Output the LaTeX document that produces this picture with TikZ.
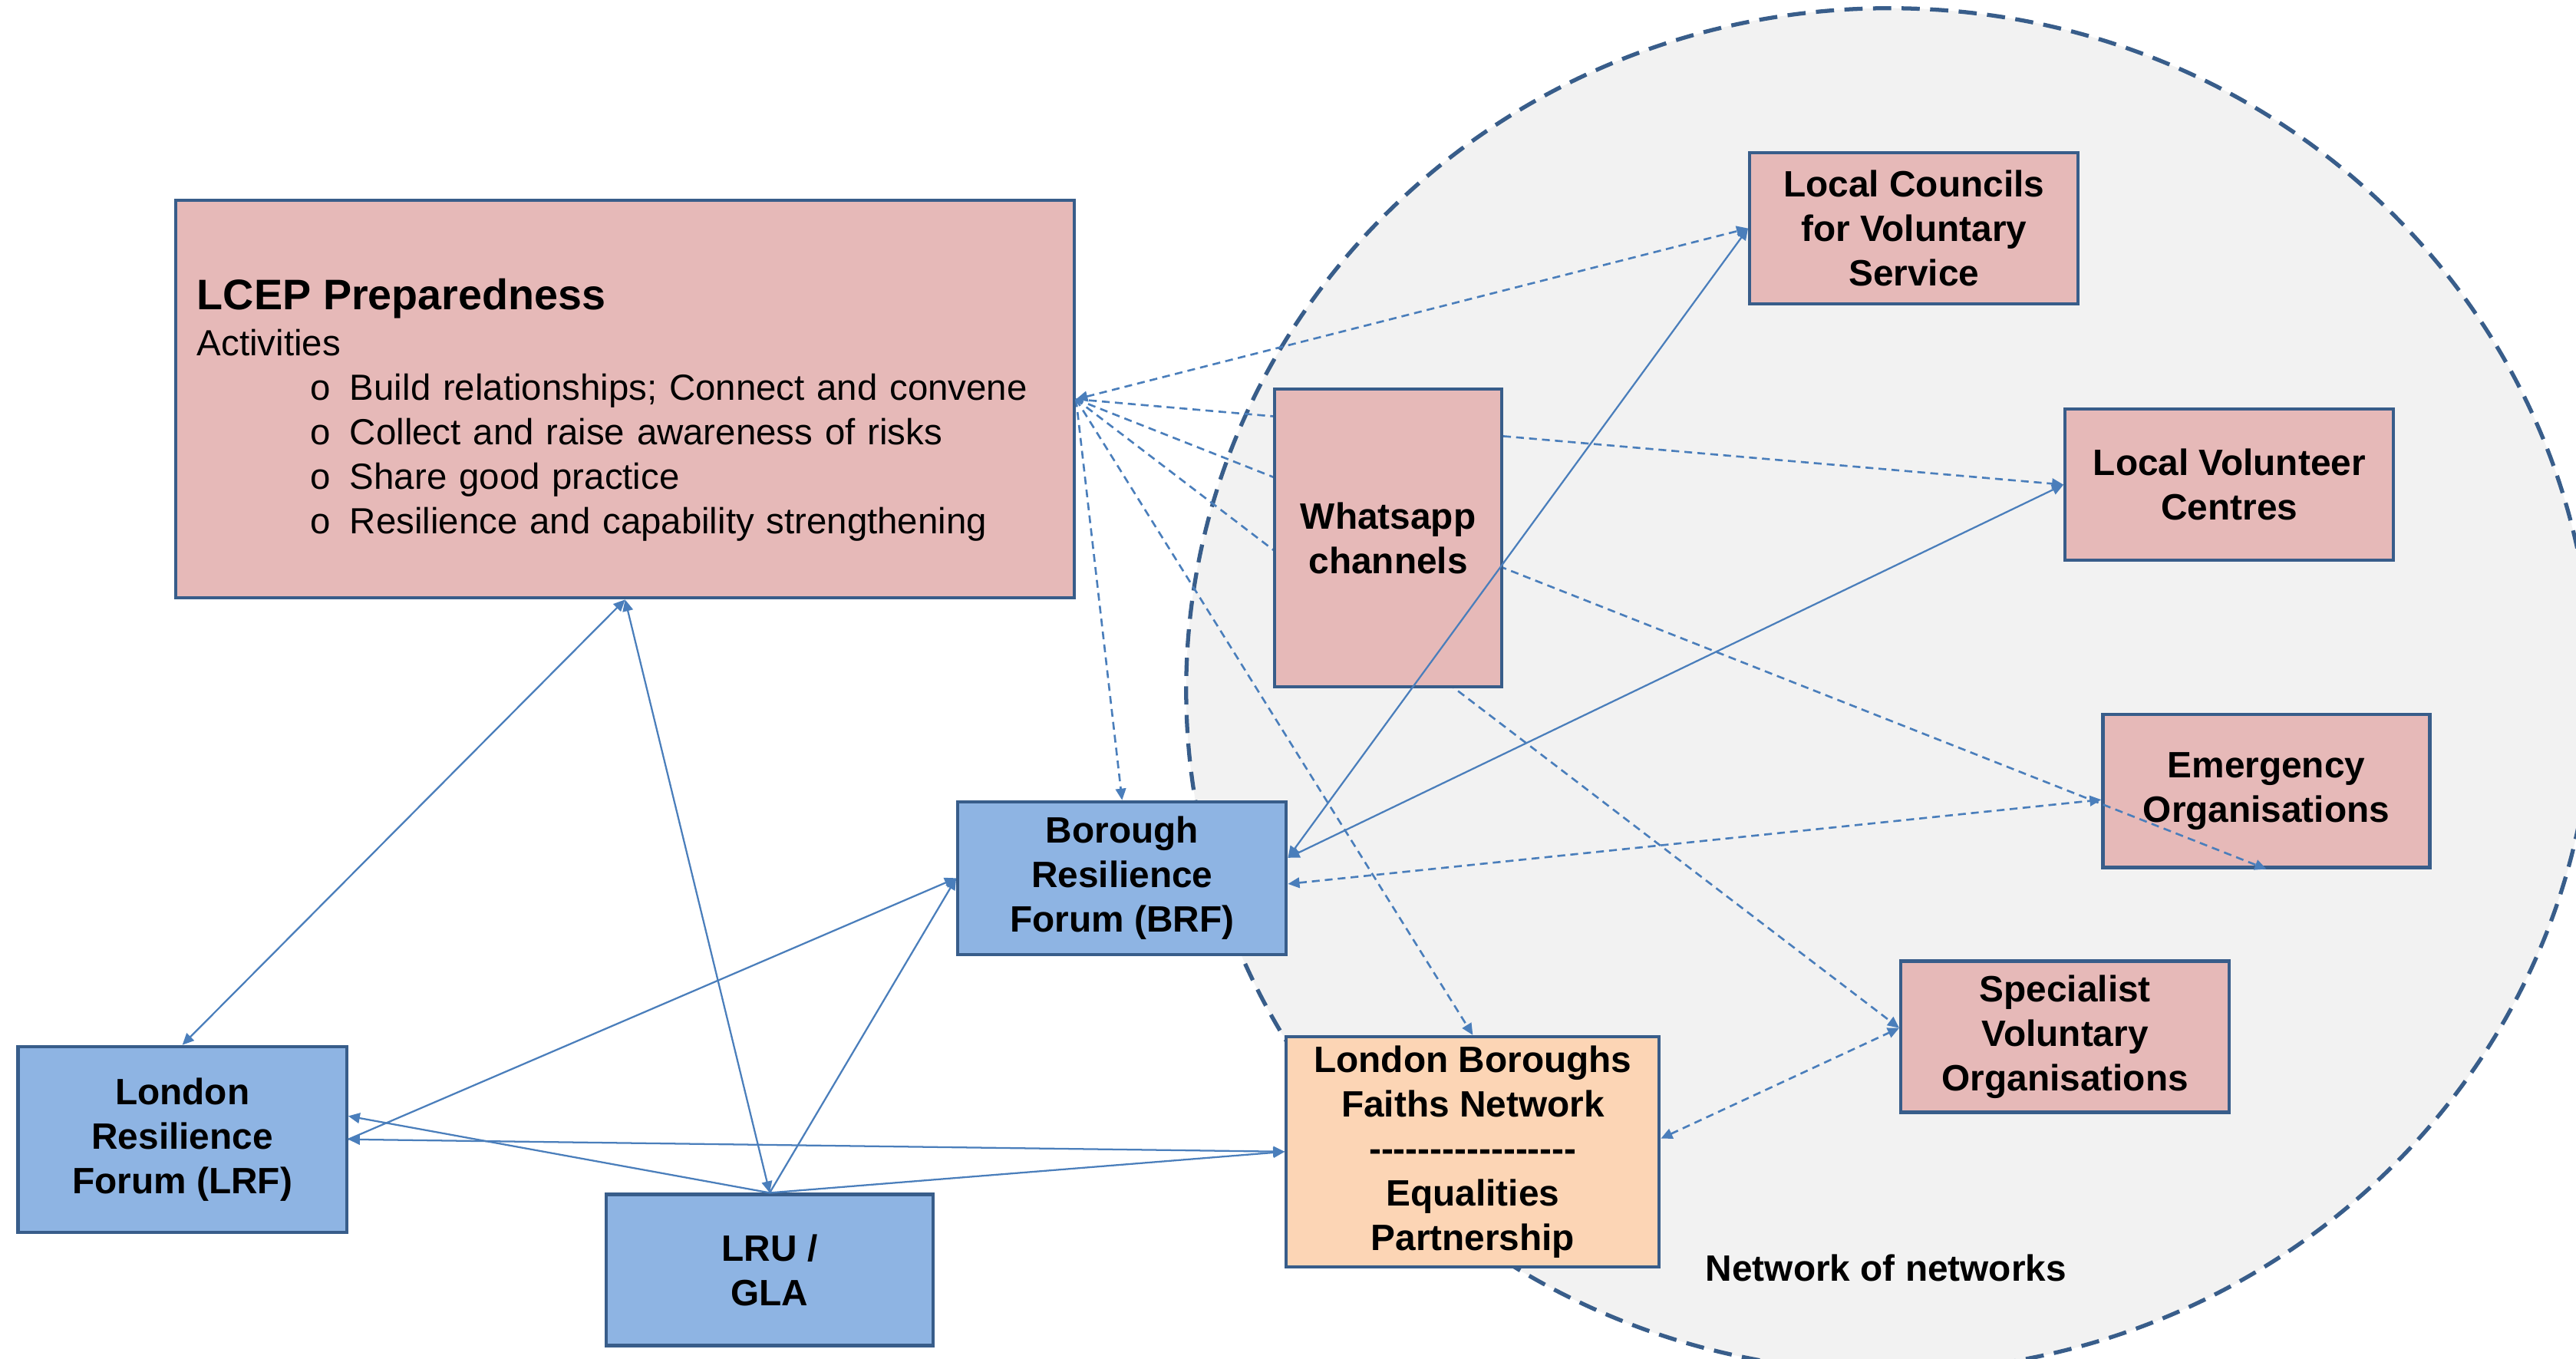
\documentclass[tikz,border=0pt]{standalone}
\usepackage{fontspec}
\setmainfont{Liberation Sans}
\usetikzlibrary{arrows.meta}

\definecolor{edgeblue}{RGB}{56,93,138}
\definecolor{linkblue}{RGB}{74,126,187}
\definecolor{pinkfill}{RGB}{230,185,184}
\definecolor{bluefill}{RGB}{142,180,227}
\definecolor{peachfill}{RGB}{252,213,181}
\definecolor{cloudgrey}{RGB}{242,242,242}

\pgfdeclarelayer{back}
\pgfdeclarelayer{front}
\pgfdeclarelayer{top}
\pgfsetlayers{back,main,front,top}

\newcommand{\hy}{-\kern0pt}
\newcommand{\bul}{\hspace*{1.38cm}\makebox[0.48cm][l]{o}}

\begin{document}
\begin{tikzpicture}[>={Triangle[length=4pt,width=3.6pt]},
  box/.style={draw=edgeblue, line width=1.1pt, inner sep=0pt, align=center, font=\fontsize{12.7}{15.4}\selectfont\bfseries, minimum width=4cm, minimum height=1.84cm},
  pinkbox/.style={box, fill=pinkfill},
  bluebox/.style={box, fill=bluefill},
  peachbox/.style={box, fill=peachfill},
  link/.style={draw=linkblue, line width=0.6pt},
  dlink/.style={link, line width=0.7pt, dash pattern=on 2.7pt off 1.8pt}]

  \useasboundingbox (0,0) rectangle (31.36,-16.54);

  % network of networks
  \begin{pgfonlayer}{back}
    \begin{scope}
      \clip (0,0) rectangle (31.36,-16.54);
      \draw[fill=cloudgrey, draw=edgeblue, line width=1.4pt, dash pattern=on 6.3pt off 3.6pt] (23.0,-8.4) ellipse [x radius=8.56, y radius=8.3];
    \end{scope}
  \end{pgfonlayer}

  \node[pinkbox, minimum width=10.94cm, minimum height=4.84cm, text width=10.42cm, align=left, font=\fontsize{12.6}{15.4}\selectfont] (lcep) at (7.61,-4.86) {
    {\fontsize{14.8}{17}\selectfont\bfseries\rule{0pt}{18pt}LCEP Preparedness}\\[0.6pt]
    Activities\\
    \bul Build relationships; Connect and convene\\
    \bul Collect and raise awareness of risks\\
    \bul Share good practice\\
    \bul Resilience and capability strengthening};

  \node[pinkbox] (lcvs) at (23.30,-2.78) {Local Councils\\for Voluntary\\Service};
  \node[pinkbox] (lvc) at (27.14,-5.90) {Local Volunteer\\Centres};
  \node[pinkbox, minimum width=3.98cm, minimum height=1.86cm] (emerg) at (27.59,-9.63) {Emergency\\Organisations};
  \node[pinkbox] (spec) at (25.14,-12.62) {Specialist\\Voluntary\\Organisations};

  \node[bluebox, minimum height=1.86cm] (brf) at (13.66,-10.69) {Borough\\Resilience\\Forum (BRF)};
  \node[bluebox, minimum height=2.26cm] (lrf) at (2.22,-13.87) {London\\Resilience\\Forum (LRF)};
  \node[bluebox, minimum width=3.98cm] (lru) at (9.37,-15.46) {LRU /\\GLA};

  \node[peachbox, minimum width=4.54cm, minimum height=2.8cm] (lbfn) at (17.93,-14.02) {London Boroughs\\Faiths Network\\\hy\hy\hy\hy\hy\hy\hy\hy\hy\hy\hy\hy\hy\hy\hy\hy\hy\\Equalities\\Partnership};

  \node[font=\fontsize{12.7}{15.4}\selectfont\bfseries] (net) at (22.96,-15.44) {Network of networks};

  % dashed links out of the preparedness box
  \draw[dlink, <->] (lcep.east) -- (lcvs.west);
  \draw[dlink, ->] (lcep.east) -- (lvc.west);
  \draw[dlink, ->] (lcep.east) -- (emerg.south);
  \draw[dlink, ->] (lcep.east) -- (spec.177);
  \draw[dlink, ->] (lcep.east) -- (lbfn.north);
  \draw[dlink, ->] (lcep.east) -- (brf.north);
  \draw[dlink, <->] (brf.-2) -- (emerg.183);
  \draw[dlink, <->] (lbfn.4) -- (spec.177);

  \begin{pgfonlayer}{front}
    \node[pinkbox, minimum width=2.76cm, minimum height=3.62cm] (whats) at (16.90,-6.55) {Whatsapp\\channels};
  \end{pgfonlayer}

  % solid links
  \begin{pgfonlayer}{top}
    \draw[link, <->] (lcep.south) -- (lrf.north);
    \draw[link, <->] (lcep.south) -- (lru.north);
    \draw[link, ->] (lru.north) -- (brf.west);
    \draw[link, ->] (lrf.east) -- (brf.west);
    \draw[link, ->] (lru.north) -- (lrf.8);
    \draw[link, <->] (lrf.east) -- (lbfn.west);
    \draw[link, ->] (lru.north) -- (lbfn.west);
    \draw[link, <->] (brf.7) -- (lcvs.west);
    \draw[link, <->] (brf.7) -- (lvc.west);
  \end{pgfonlayer}

\end{tikzpicture}
\end{document}
